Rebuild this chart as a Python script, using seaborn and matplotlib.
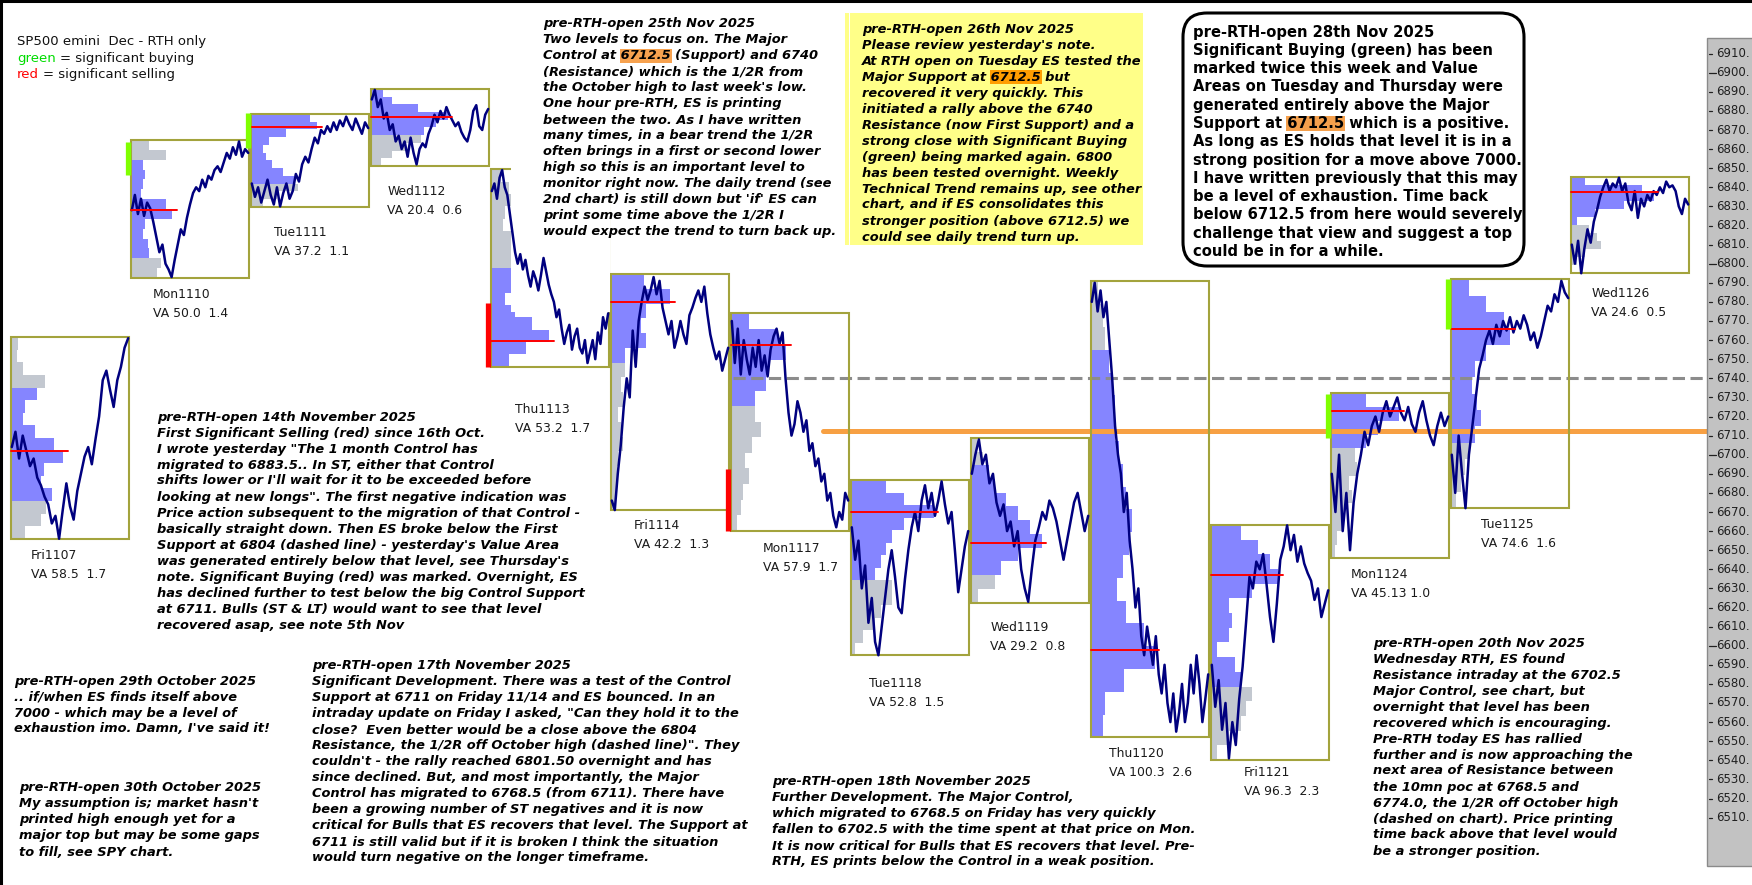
import numpy as np
import matplotlib
matplotlib.use("Agg")
import matplotlib.pyplot as plt
import seaborn as sns
from matplotlib.patches import Rectangle, FancyBboxPatch

# --- values (SP500 emini Dec, RTH sessions) ---
days = ["Fri1107", "Mon1110", "Tue1111", "Wed1112", "Thu1113", "Fri1114", "Mon1117",
        "Tue1118", "Wed1119", "Thu1120", "Fri1121", "Mon1124", "Tue1125", "Wed1126"]
va_labels = ["VA 58.5  1.7", "VA 50.0  1.4", "VA 37.2  1.1", "VA 20.4  0.6", "VA 53.2  1.7",
             "VA 42.2  1.3", "VA 57.9  1.7", "VA 52.8  1.5", "VA 29.2  0.8", "VA 100.3  2.6",
             "VA 96.3  2.3", "VA 45.13 1.0", "VA 74.6  1.6", "VA 24.6  0.5"]
day_high = [6761.6, 6864.8, 6878.4, 6891.5, 6849.4, 6794.6, 6774.0,
            6686.6, 6708.8, 6790.7, 6663.2, 6732.2, 6791.9, 6845.6]
day_low = [6655.9, 6792.5, 6829.7, 6851.2, 6746.1, 6670.8, 6660.3,
           6595.1, 6622.6, 6552.0, 6540.2, 6645.7, 6672.1, 6795.3]
va_high = [6732.0, 6853.4, 6878.4, 6891.5, 6799.3, 6794.6, 6774.0,
           6686.6, 6692.0, 6755.0, 6663.2, 6732.2, 6791.9, 6845.6]
va_low = [6672.6, 6803.7, 6841.2, 6867.4, 6746.1, 6751.3, 6724.5,
          6635.3, 6638.7, 6552.0, 6582.0, 6704.0, 6705.0, 6822.0]
poc = [6701.8, 6828.2, 6871.7, 6877.0, 6759.7, 6780.1, 6757.4,
       6670.2, 6654.0, 6597.7, 6637.0, 6723.0, 6765.6, 6837.7]

# volume profiles, width as share of the day box, top level first
prof_fri1107 = [0.06, 0.05, 0.1, 0.29, 0.22, 0.12, 0.1, 0.2, 0.36, 0.44, 0.28, 0.25, 0.35, 0.3, 0.25, 0.12]
prof_mon1110 = [0.15, 0.3, 0.1, 0.12, 0.1, 0.08, 0.3, 0.35, 0.12, 0.1, 0.14, 0.15, 0.25, 0.22]
prof_tue1111 = [0.5, 0.56, 0.3, 0.15, 0.1, 0.13, 0.18, 0.27, 0.36, 0.4, 0.22, 0.1]
prof_wed1112 = [0.1, 0.18, 0.4, 0.65, 0.55, 0.45, 0.42, 0.3, 0.18, 0.08]
prof_thu1113 = [0.08, 0.15, 0.18, 0.12, 0.1, 0.2, 0.22, 0.25, 0.3, 0.25, 0.12, 0.2, 0.35, 0.49, 0.3, 0.15]
prof_fri1114 = [0.28, 0.5, 0.3, 0.25, 0.3, 0.12, 0.12, 0.08, 0.1, 0.06, 0.08, 0.1, 0.06, 0.05, 0.04, 0.03]
prof_mon1117 = [0.15, 0.4, 0.47, 0.32, 0.3, 0.2, 0.2, 0.25, 0.18, 0.12, 0.15, 0.1, 0.08, 0.05]
prof_tue1118 = [0.3, 0.45, 0.7, 0.45, 0.35, 0.3, 0.25, 0.2, 0.35, 0.35, 0.25, 0.2, 0.1, 0.03]
prof_wed1119 = [0.05, 0.1, 0.15, 0.2, 0.3, 0.4, 0.5, 0.6, 0.4, 0.25, 0.2, 0.06]
prof_thu1120 = [0.06, 0.1, 0.12, 0.15, 0.18, 0.2, 0.2, 0.24, 0.27, 0.3, 0.35, 0.32, 0.27, 0.22,
                0.3, 0.45, 0.54, 0.28, 0.12, 0.1]
prof_fri1121 = [0.25, 0.4, 0.5, 0.57, 0.35, 0.15, 0.18, 0.15, 0.05, 0.2, 0.25, 0.35, 0.3, 0.25, 0.15, 0.05]
prof_mon1124 = [0.3, 0.58, 0.4, 0.3, 0.2, 0.22, 0.15, 0.18, 0.12, 0.1, 0.05, 0.03]
prof_tue1125 = [0.15, 0.3, 0.45, 0.5, 0.3, 0.2, 0.18, 0.22, 0.25, 0.2, 0.15, 0.12, 0.08, 0.04]
prof_wed1126 = [0.12, 0.6, 0.7, 0.45, 0.2, 0.05, 0.15, 0.22, 0.25, 0.12, 0.05, 0.0]

# intraday price paths (open -> close)
p_fri1107 = [6704, 6712, 6698, 6710, 6702, 6694, 6698, 6688, 6684, 6678, 6674, 6664, 6668, 6656, 6671,
             6685, 6673, 6666, 6681, 6690, 6699, 6704, 6695, 6708, 6720, 6739, 6744, 6734, 6725, 6739,
             6746, 6756, 6761]
p_mon1110 = [6828, 6836, 6826, 6834, 6825, 6832, 6829, 6822, 6814, 6806, 6810, 6800, 6797, 6793, 6802,
             6810, 6818, 6815, 6824, 6831, 6837, 6840, 6838, 6844, 6840, 6846, 6844, 6849, 6851, 6848,
             6853, 6858, 6855, 6861, 6857, 6864, 6856, 6860, 6858]
p_tue1111 = [6842, 6835, 6840, 6832, 6838, 6844, 6836, 6831, 6840, 6830, 6837, 6842, 6834, 6838, 6847,
             6843, 6852, 6856, 6853, 6860, 6866, 6863, 6870, 6868, 6872, 6869, 6874, 6870, 6875, 6872,
             6877, 6873, 6870, 6876, 6872, 6868, 6874, 6871]
p_wed1112 = [6886, 6891, 6882, 6886, 6876, 6879, 6870, 6873, 6864, 6867, 6860, 6864, 6856, 6866, 6858,
             6852, 6860, 6863, 6861, 6868, 6872, 6878, 6874, 6880, 6876, 6882, 6878, 6875, 6872, 6874,
             6869, 6866, 6864, 6870, 6880, 6883, 6872, 6870, 6878, 6881]
p_thu1113 = [6838, 6842, 6834, 6845, 6849, 6840, 6836, 6826, 6816, 6806, 6800, 6805, 6797, 6802, 6794,
             6788, 6796, 6792, 6786, 6794, 6803, 6796, 6789, 6784, 6780, 6772, 6776, 6766, 6758, 6764,
             6768, 6755, 6762, 6766, 6756, 6753, 6760, 6748, 6754, 6760, 6750, 6764, 6758, 6772, 6766, 6774]
p_fri1114 = [6676, 6671, 6690, 6705, 6725, 6740, 6730, 6765, 6746, 6770, 6780, 6788, 6781, 6786, 6793,
             6784, 6791, 6777, 6770, 6763, 6770, 6756, 6762, 6770, 6763, 6758, 6773, 6777, 6782, 6786,
             6780, 6788, 6774, 6763, 6756, 6750, 6754, 6744, 6750, 6756]
p_mon1117 = [6770, 6748, 6766, 6742, 6760, 6750, 6742, 6756, 6746, 6760, 6744, 6752, 6741, 6755, 6762,
             6766, 6758, 6764, 6740, 6722, 6710, 6716, 6728, 6722, 6712, 6718, 6702, 6706, 6694, 6698,
             6686, 6690, 6676, 6680, 6668, 6662, 6670, 6666, 6680, 6676]
p_tue1118 = [6662, 6645, 6655, 6630, 6642, 6612, 6625, 6602, 6595, 6610, 6625, 6640, 6650, 6636, 6620,
             6617, 6635, 6650, 6662, 6670, 6660, 6676, 6684, 6672, 6680, 6668, 6676, 6686, 6674, 6664,
             6670, 6650, 6628, 6640, 6652, 6660]
p_wed1119 = [6690, 6700, 6708, 6695, 6700, 6685, 6690, 6675, 6668, 6674, 6660, 6665, 6652, 6660, 6640,
             6630, 6623, 6640, 6655, 6662, 6670, 6666, 6676, 6672, 6665, 6655, 6645, 6655, 6665, 6675,
             6680, 6670, 6660, 6668]
p_thu1120 = [6780, 6790, 6775, 6786, 6772, 6780, 6760, 6740, 6715, 6700, 6690, 6670, 6680, 6655, 6640,
             6620, 6630, 6605, 6595, 6610, 6600, 6590, 6605, 6585, 6575, 6590, 6570, 6560, 6575, 6555,
             6565, 6580, 6560, 6570, 6590, 6575, 6595, 6580, 6560, 6572, 6585]
p_fri1121 = [6590, 6568, 6582, 6556, 6570, 6541, 6560, 6548, 6572, 6589, 6612, 6636, 6630, 6644, 6640,
             6648, 6632, 6615, 6602, 6622, 6645, 6652, 6663, 6650, 6658, 6644, 6652, 6643, 6638, 6634,
             6624, 6630, 6615, 6622, 6629]
p_mon1124 = [6690, 6670, 6700, 6660, 6680, 6650, 6675, 6690, 6700, 6712, 6705, 6715, 6720, 6712, 6722,
             6728, 6720, 6725, 6730, 6722, 6718, 6725, 6716, 6712, 6722, 6728, 6718, 6710, 6705, 6715,
             6722, 6715, 6720]
p_tue1125 = [6700, 6680, 6710, 6690, 6672, 6700, 6715, 6730, 6745, 6752, 6760, 6765, 6758, 6768, 6762,
             6770, 6765, 6772, 6764, 6770, 6766, 6773, 6768, 6760, 6764, 6756, 6762, 6770, 6778, 6775,
             6784, 6780, 6791, 6785, 6782]
p_wed1126 = [6810, 6800, 6812, 6795, 6808, 6818, 6811, 6822, 6828, 6835, 6840, 6844, 6838, 6842, 6840,
             6845, 6838, 6842, 6832, 6828, 6838, 6824, 6834, 6830, 6836, 6833, 6838, 6836, 6840, 6837,
             6843, 6840, 6841, 6838, 6830, 6826, 6834, 6831]

# significant buying / selling marks: day index, kind, top, bottom
sig_day = [1, 2, 4, 6, 11, 12]
sig_kind = ["buy", "buy", "sell", "sell", "buy", "buy"]
sig_top = [6863.7, 6878.9, 6779.4, 6692.5, 6732.0, 6791.9]
sig_bottom = [6846.4, 6860.5, 6746.0, 6660.3, 6709.0, 6765.6]

major_control = 6712.5
half_retrace = 6740.0
price_ticks = list(range(6910, 6500, -10))

profiles = [prof_fri1107, prof_mon1110, prof_tue1111, prof_wed1112, prof_thu1113, prof_fri1114,
            prof_mon1117, prof_tue1118, prof_wed1119, prof_thu1120, prof_fri1121, prof_mon1124,
            prof_tue1125, prof_wed1126]
paths = [p_fri1107, p_mon1110, p_tue1111, p_wed1112, p_thu1113, p_fri1114, p_mon1117,
         p_tue1118, p_wed1119, p_thu1120, p_fri1121, p_mon1124, p_tue1125, p_wed1126]

# --- layout (pixels) ---
W, H = 1752, 885
BW = 0.98
label_dx = [20, 22, 23, 16, 24, 23, 32, 18, 19, 18, 33, 20, 30, 20]
label_gap = [17, 16, 26, 26, 43, 15, 18, 28, 25, 16, 13, 16, 17, 21]


def fx(px):
    return (px - 11.2) / 120.0


def fy(py):
    return 6910 - (py - 53.6) / 1.91


def to_py(price):
    return 53.6 + (6910 - price) * 1.91


BLUE = "#8585ff"
GREY = "#c3c8d0"
NAVY = "#00007f"
BOXC = "#a3a33d"

sns.set_theme(style="white")
plt.rcParams["font.family"] = ["DejaVu Sans"]

fig = plt.figure(figsize=(W / 100, H / 100), dpi=100)
ax = fig.add_axes([0, 0, 1, 1])
ax.set_xlim(fx(0), fx(W))
ax.set_ylim(fy(H), fy(0))
ax.axis("off")

lay = fig.add_axes([0, 0, 1, 1], zorder=2)
lay.set_xlim(0, W)
lay.set_ylim(H, 0)
lay.axis("off")
lay.patch.set_alpha(0)
renderer = fig.canvas.get_renderer()

# level lines
ax.plot([fx(733), fx(1707)], [half_retrace] * 2, color="#8c8c8c", lw=2.2, dashes=(4, 1.8), zorder=3)
ax.plot([fx(823), fx(1707)], [major_control] * 2, color="#f7a043", lw=3.6, zorder=3)

for i in range(len(days)):
    hi, lo = day_high[i], day_low[i]
    w = np.array(profiles[i])
    n = len(w)
    step = (hi - lo) / n
    mids = hi - step * (np.arange(n) + 0.5)
    cols = [BLUE if va_low[i] <= m <= va_high[i] else GREY for m in mids]
    ax.barh(mids, w * BW, height=step, left=i, color=cols, linewidth=0, zorder=2)

    p = np.array(paths[i])
    xs = i + np.linspace(0.005, BW - 0.005, len(p))
    sns.lineplot(x=xs, y=p, ax=ax, color=NAVY, linewidth=1.8, sort=False,
                 estimator=None, legend=False, zorder=4)

    ax.add_patch(Rectangle((i, lo), BW, hi - lo, fill=False, edgecolor=BOXC, linewidth=1.5, zorder=3.1))
    ax.plot([i, i + (w.max() + 0.04) * BW], [poc[i]] * 2, color="#ff0000", lw=1.4, zorder=6)

    lx = 11.2 + 120 * i + label_dx[i]
    ly = to_py(lo) + label_gap[i]
    lay.text(lx, ly, days[i], va="center", ha="left", fontsize=8.9, color="#1a1a1a")
    lay.text(lx, ly + 19, va_labels[i], va="center", ha="left", fontsize=8.9, color="#1a1a1a")

# the 25th Nov note hides the upper right corner of the Thu1113 box
ax.add_patch(Rectangle((fx(511), fy(312)), fx(609.5) - fx(511), fy(150) - fy(312),
                       facecolor="white", edgecolor="none", zorder=3.2))

for d, k, t, b in zip(sig_day, sig_kind, sig_top, sig_bottom):
    ax.plot([d - 0.025] * 2, [t, b], color="#80ff00" if k == "buy" else "#ff0000",
            lw=3.8, solid_capstyle="butt", zorder=6)

# price scale strip
ax.add_patch(Rectangle((fx(1707), fy(866)), fx(W + 5) - fx(1707), fy(38) - fy(866),
                       facecolor="#c2c2c2", edgecolor="#8a8a8a", linewidth=1.0, zorder=6))
for v in price_ticks:
    tick_end = 1716 if v % 100 == 0 else 1712
    ax.plot([fx(1708.5), fx(tick_end)], [v, v], color="#202020", lw=0.9, zorder=7)
    ax.text(fx(1716.5), v, f"{v}.", va="center", ha="left", fontsize=8.5, color="#202020", zorder=7)

ax.set_xlim(fx(0), fx(W))
ax.set_ylim(fy(H), fy(0))


# --- text ---
def put(x, y, s, **kw):
    return lay.text(x, y, s, va="center", ha="left", **kw)


def text_w(s, **kw):
    t = put(0, 0, s, **kw)
    w = t.get_window_extent(renderer).width
    t.remove()
    return w


def write_block(x, y, lines, step, hl_color=None, **kw):
    for k, line in enumerate(lines):
        yy = y + k * step
        if "[" in line:
            pre, rest = line.split("[")
            word, post = rest.split("]")
            x0 = x + text_w(pre + "l", **kw) - text_w("l", **kw)
            ww = text_w(word, **kw)
            lay.add_patch(Rectangle((x0 - 1, yy - 0.42 * step), ww + 2, 0.84 * step,
                                    facecolor=hl_color, edgecolor="none", zorder=1))
            line = pre + word + post
        put(x, yy, line, zorder=3, **kw)


NOTE = dict(fontsize=9.4, fontweight="bold", fontstyle="italic", color="black")

# legend
LEG = dict(fontsize=9.5, color="#111111")
put(17, 42, "SP500 emini  Dec - RTH only", **LEG)
put(17, 58.5, "green", fontsize=9.5, color="#00dd00")
put(17 + text_w("green l", **LEG) - text_w("l", **LEG), 58.5, "= significant buying", **LEG)
put(17, 74.7, "red", fontsize=9.5, color="#ff0000")
put(17 + text_w("red l", **LEG) - text_w("l", **LEG), 74.7, "= significant selling", **LEG)

write_block(543, 24, [
    "pre-RTH-open 25th Nov 2025",
    "Two levels to focus on. The Major",
    "Control at [6712.5] (Support) and 6740",
    "(Resistance) which is the 1/2R from",
    "the October high to last week's low.",
    "One hour pre-RTH, ES is printing",
    "between the two. As I have written",
    "many times, in a bear trend the 1/2R",
    "often brings in a first or second lower",
    "high so this is an important level to",
    "monitor right now. The daily trend (see",
    "2nd chart) is still down but 'if' ES can",
    "print some time above the 1/2R I",
    "would expect the trend to turn back up.",
], 16, hl_color="#f7a24f", **NOTE)

lay.add_patch(Rectangle((845, 13), 298, 232, facecolor="#ffff88", edgecolor="none", zorder=0.5))
lay.add_patch(Rectangle((849, 13), 1.3, 232, facecolor="white", edgecolor="none", zorder=0.6))
write_block(862, 29, [
    "pre-RTH-open 26th Nov 2025",
    "Please review yesterday's note.",
    "At RTH open on Tuesday ES tested the",
    "Major Support at [6712.5] but",
    "recovered it very quickly. This",
    "initiated a rally above the 6740",
    "Resistance (now First Support) and a",
    "strong close with Significant Buying",
    "(green) being marked again. 6800",
    "has been tested overnight. Weekly",
    "Technical Trend remains up, see other",
    "chart, and if ES consolidates this",
    "stronger position (above 6712.5) we",
    "could see daily trend turn up.",
], 16, hl_color="#ff9d00", **NOTE)

lay.add_patch(FancyBboxPatch((1183, 13), 341, 253, boxstyle="round,pad=0,rounding_size=24",
                             facecolor="white", edgecolor="black", linewidth=2.2, zorder=0.5))
write_block(1193, 32, [
    "pre-RTH-open 28th Nov 2025",
    "Significant Buying (green) has been",
    "marked twice this week and Value",
    "Areas on Tuesday and Thursday were",
    "generated entirely above the Major",
    "Support at [6712.5] which is a positive.",
    "As long as ES holds that level it is in a",
    "strong position for a move above 7000.",
    "I have written previously that this may",
    "be a level of exhaustion. Time back",
    "below 6712.5 from here would severely",
    "challenge that view and suggest a top",
    "could be in for a while.",
], 18.3, hl_color="#f5a04c", fontsize=10.6, fontweight="bold", color="black")

write_block(157, 417, [
    "pre-RTH-open 14th November 2025",
    "First Significant Selling (red) since 16th Oct.",
    "I wrote yesterday \"The 1 month Control has",
    "migrated to 6883.5.. In ST, either that Control",
    "shifts lower or I'll wait for it to be exceeded before",
    "looking at new longs\". The first negative indication was",
    "Price action subsequent to the migration of that Control -",
    "basically straight down. Then ES broke below the First",
    "Support at 6804 (dashed line) - yesterday's Value Area",
    "was generated entirely below that level, see Thursday's",
    "note. Significant Buying (red) was marked. Overnight, ES",
    "has declined further to test below the big Control Support",
    "at 6711. Bulls (ST & LT) would want to see that level",
    "recovered asap, see note 5th Nov",
], 16, **NOTE)

write_block(14, 681, [
    "pre-RTH-open 29th October 2025",
    ".. if/when ES finds itself above",
    "7000 - which may be a level of",
    "exhaustion imo. Damn, I've said it!",
], 16, **NOTE)

write_block(19, 788, [
    "pre-RTH-open 30th October 2025",
    "My assumption is; market hasn't",
    "printed high enough yet for a",
    "major top but may be some gaps",
    "to fill, see SPY chart.",
], 16, **NOTE)

write_block(312, 666, [
    "pre-RTH-open 17th November 2025",
    "Significant Development. There was a test of the Control",
    "Support at 6711 on Friday 11/14 and ES bounced. In an",
    "intraday update on Friday I asked, \"Can they hold it to the",
    "close?  Even better would be a close above the 6804",
    "Resistance, the 1/2R off October high (dashed line)\". They",
    "couldn't - the rally reached 6801.50 overnight and has",
    "since declined. But, and most importantly, the Major",
    "Control has migrated to 6768.5 (from 6711). There have",
    "been a growing number of ST negatives and it is now",
    "critical for Bulls that ES recovers that level. The Support at",
    "6711 is still valid but if it is broken I think the situation",
    "would turn negative on the longer timeframe.",
], 16, **NOTE)

write_block(772, 782, [
    "pre-RTH-open 18th November 2025",
    "Further Development. The Major Control,",
    "which migrated to 6768.5 on Friday has very quickly",
    "fallen to 6702.5 with the time spent at that price on Mon.",
    "It is now critical for Bulls that ES recovers that level. Pre-",
    "RTH, ES prints below the Control in a weak position.",
], 16, **NOTE)

write_block(1373, 643, [
    "pre-RTH-open 20th Nov 2025",
    "Wednesday RTH, ES found",
    "Resistance intraday at the 6702.5",
    "Major Control, see chart, but",
    "overnight that level has been",
    "recovered which is encouraging.",
    "Pre-RTH today ES has rallied",
    "further and is now approaching the",
    "next area of Resistance between",
    "the 10mn poc at 6768.5 and",
    "6774.0, the 1/2R off October high",
    "(dashed on chart). Price printing",
    "time back above that level would",
    "be a stronger position.",
], 16, **NOTE)

# frame edges
lay.plot([0, W], [1.3, 1.3], color="black", lw=2.2, zorder=8)
lay.plot([1, 1], [0, H], color="black", lw=2.2, zorder=8)

fig.savefig("out.png", dpi=100)
